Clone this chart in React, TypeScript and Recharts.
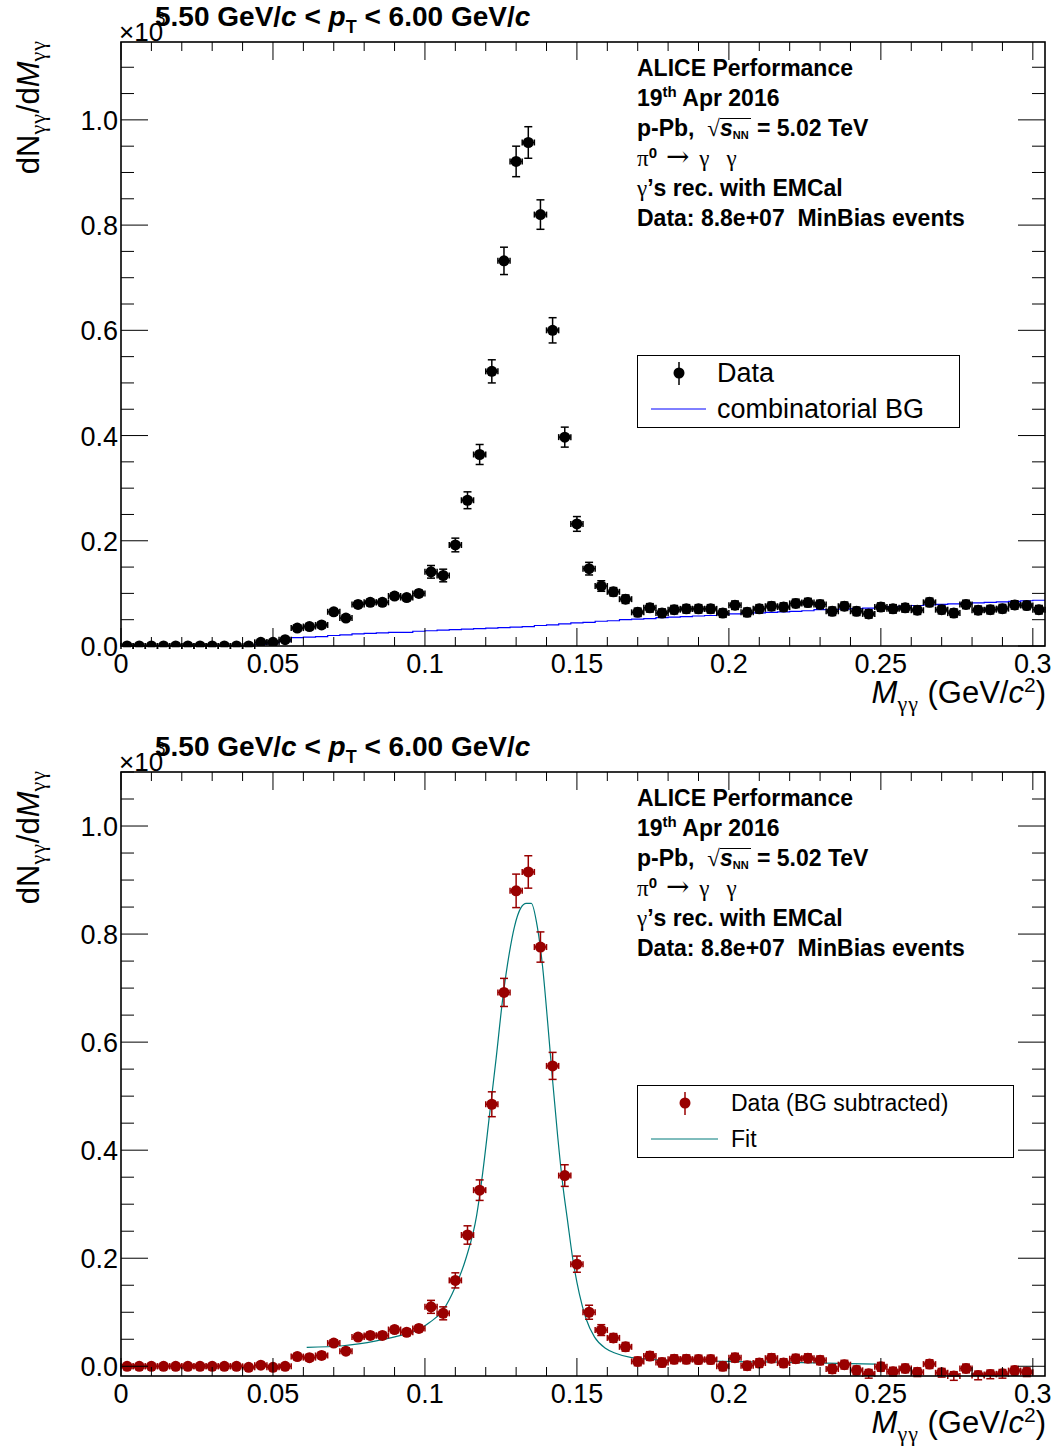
import React from "react";
import { ComposedChart, Scatter, Line, XAxis, YAxis, ErrorBar } from "recharts";

// bin centres of the invariant-mass histogram (GeV/c^2)
const binCentres = [
  0.002, 0.006, 0.010, 0.014, 0.018, 0.022, 0.026, 0.030, 0.034, 0.038,
  0.042, 0.046, 0.050, 0.054, 0.058, 0.062, 0.066, 0.070, 0.074, 0.078,
  0.082, 0.086, 0.090, 0.094, 0.098, 0.102, 0.106, 0.110, 0.114, 0.118,
  0.122, 0.126, 0.130, 0.134, 0.138, 0.142, 0.146, 0.150, 0.154, 0.158,
  0.162, 0.166, 0.170, 0.174, 0.178, 0.182, 0.186, 0.190, 0.194, 0.198,
  0.202, 0.206, 0.210, 0.214, 0.218, 0.222, 0.226, 0.230, 0.234, 0.238,
  0.242, 0.246, 0.250, 0.254, 0.258, 0.262, 0.266, 0.270, 0.274, 0.278,
  0.282, 0.286, 0.290, 0.294, 0.298, 0.302,
];
const BIN = 0.004;

// top panel: same-event distribution (x10^3)
const dataTop = [
  0, 0, 0, 0, 0, 0, 0, 0, 0, 0, 0,
  0.007, 0.007, 0.012,
  0.034, 0.037, 0.040, 0.065, 0.053, 0.079, 0.083, 0.083, 0.095, 0.092, 0.100,
  0.141, 0.134, 0.192, 0.277, 0.364, 0.522, 0.732, 0.921, 0.957, 0.820, 0.600, 0.397, 0.232, 0.147, 0.114,
  0.103, 0.089, 0.064, 0.0725, 0.0625, 0.069, 0.0706, 0.0706, 0.0706, 0.0625,
  0.0775, 0.064, 0.0706, 0.0756, 0.074, 0.081, 0.0825, 0.079, 0.066, 0.0756,
  0.066, 0.061, 0.074, 0.0706, 0.0725, 0.068, 0.083, 0.069, 0.0625, 0.079,
  0.068, 0.069, 0.071, 0.078, 0.077, 0.069,
];
const errTop = [
  0.001, 0.001, 0.001, 0.001, 0.001, 0.001, 0.001, 0.001, 0.001, 0.001, 0.001,
  0.003, 0.003, 0.003,
  0.006, 0.006, 0.006, 0.006, 0.006, 0.006, 0.006, 0.006, 0.006, 0.006, 0.006,
  0.012, 0.012, 0.013, 0.016, 0.019, 0.022, 0.026, 0.029, 0.030, 0.028, 0.024, 0.019, 0.014, 0.012, 0.010,
  0.008, 0.008, 0.008, 0.008, 0.008, 0.008, 0.008, 0.008, 0.008, 0.008,
  0.008, 0.008, 0.008, 0.008, 0.008, 0.008, 0.008, 0.008, 0.008, 0.008,
  0.008, 0.008, 0.008, 0.008, 0.008, 0.008, 0.008, 0.008, 0.008, 0.008,
  0.008, 0.008, 0.008, 0.008, 0.008, 0.008,
];
// combinatorial background (mixed events), per bin
const bgTop = [
  0, 0, 0, 0, 0, 0, 0, 0, 0, 0, 0,
  0.003, 0.006, 0.009,
  0.016, 0.017, 0.018, 0.020, 0.021, 0.023, 0.024, 0.025, 0.026, 0.026, 0.028,
  0.029, 0.030, 0.031, 0.032, 0.033, 0.034, 0.035, 0.036, 0.037, 0.039, 0.040, 0.042, 0.044, 0.045, 0.047,
  0.048, 0.050, 0.051, 0.052, 0.054, 0.055, 0.056, 0.057, 0.058, 0.060,
  0.061, 0.062, 0.063, 0.064, 0.065, 0.066, 0.067, 0.069, 0.069, 0.070,
  0.071, 0.072, 0.074, 0.075, 0.076, 0.077, 0.078, 0.079, 0.080, 0.081,
  0.082, 0.083, 0.084, 0.085, 0.086, 0.087,
];

// bottom panel: background subtracted
const dataSub = [
  0, 0, 0, 0, 0, 0, 0, 0, 0, 0, -0.002,
  0.002, -0.002, 0,
  0.018, 0.016, 0.020, 0.043, 0.028, 0.054, 0.057, 0.057, 0.068, 0.063, 0.070,
  0.110, 0.098, 0.159, 0.243, 0.326, 0.485, 0.692, 0.880, 0.915, 0.776, 0.556, 0.353, 0.189, 0.100, 0.067,
  0.0525, 0.036, 0.009, 0.019, 0.007, 0.013, 0.013, 0.0125, 0.0125, 0.0,
  0.016, 0.001, 0.006, 0.015, 0.006, 0.014, 0.015, 0.011, -0.005, 0.003,
  -0.0075, -0.014, -0.001, -0.010, -0.004, -0.011, 0.004, -0.012, -0.018, -0.004,
  -0.017, -0.015, -0.014, -0.008, -0.011,
];
const errSub = [
  0.001, 0.001, 0.001, 0.001, 0.001, 0.001, 0.001, 0.001, 0.001, 0.001, 0.001,
  0.003, 0.003, 0.003,
  0.006, 0.006, 0.006, 0.006, 0.006, 0.006, 0.006, 0.006, 0.006, 0.006, 0.006,
  0.012, 0.012, 0.014, 0.017, 0.019, 0.023, 0.026, 0.031, 0.030, 0.028, 0.025, 0.020, 0.015, 0.013, 0.010,
  0.008, 0.008, 0.008, 0.008, 0.008, 0.008, 0.008, 0.008, 0.008, 0.008,
  0.008, 0.008, 0.008, 0.008, 0.008, 0.008, 0.008, 0.008, 0.008, 0.008,
  0.008, 0.008, 0.008, 0.008, 0.008, 0.008, 0.008, 0.008, 0.008, 0.008,
  0.008, 0.008, 0.008, 0.008, 0.008,
];

// fit curve (mass, value)
const fitX = [
  0.0611, 0.073, 0.084, 0.0927, 0.098, 0.1015, 0.106, 0.110, 0.1135, 0.117,
  0.119, 0.1212, 0.1234, 0.1256, 0.1278, 0.1294, 0.1316, 0.1333, 0.135, 0.137,
  0.1387, 0.1404, 0.142, 0.1437, 0.1453, 0.147, 0.1486, 0.1508, 0.153, 0.1558,
  0.1595, 0.1627, 0.168, 0.1765, 0.194, 0.217, 0.240, 0.2485,
];
const fitY = [
  0.035, 0.038, 0.047, 0.058, 0.068, 0.081, 0.104, 0.147, 0.200, 0.279,
  0.358, 0.463, 0.569, 0.681, 0.766, 0.8125, 0.849, 0.857, 0.857, 0.8125,
  0.740, 0.635, 0.529, 0.424, 0.338, 0.266, 0.200, 0.134, 0.088, 0.054,
  0.033, 0.024, 0.016, 0.012, 0.0094, 0.0075, 0.005, 0.004,
];

const xTicks = [
  0, 0.01, 0.02, 0.03, 0.04, 0.05, 0.06, 0.07, 0.08, 0.09, 0.1,
  0.11, 0.12, 0.13, 0.14, 0.15, 0.16, 0.17, 0.18, 0.19, 0.2,
  0.21, 0.22, 0.23, 0.24, 0.25, 0.26, 0.27, 0.28, 0.29, 0.3,
];
const yTicks = [
  0, 0.05, 0.1, 0.15, 0.2, 0.25, 0.3, 0.35, 0.4, 0.45, 0.5, 0.55,
  0.6, 0.65, 0.7, 0.75, 0.8, 0.85, 0.9, 0.95, 1.0, 1.05, 1.1,
];

const FONT = '"Liberation Sans", Arial, Helvetica, sans-serif';
const SERIF = '"Liberation Serif", "DejaVu Serif", serif';

const W = 1058;
const H = 720;
// axes get 1px each, so the frame is x 121..1045, y 42..646
const MARGIN = { top: 42, right: 13, bottom: 73, left: 120 };
const PL = 121;
const PT = 42;
const PW = 924;
const PH = 604;

const pts = (ys: number[], es: number[]) =>
  ys.map((y, i) => ({ x: binCentres[i], y, ey: es[i], ex: BIN / 2 }));

const steps = (ys: number[], from: number) => {
  const out = ys.slice(from).map((y, i) => ({ x: binCentres[i + from] - BIN / 2, y }));
  out.push({ x: binCentres[ys.length - 1] + BIN / 2, y: ys[ys.length - 1] });
  return out;
};

function XTick(props: any) {
  const { x, y, payload } = props;
  const v = payload.value;
  const major = Math.round(v * 1000) % 50 === 0;
  const len = major ? 18 : 9;
  return (
    <g>
      <line x1={x} y1={y} x2={x} y2={y - len} stroke="#000" strokeWidth={1} />
      <line x1={x} y1={y - PH} x2={x} y2={y - PH + len} stroke="#000" strokeWidth={1} />
      {major && (
        <text x={x} y={y + 27} textAnchor="middle" fontSize={27} fontFamily={FONT} fill="#000">
          {v === 0 ? "0" : String(+v.toFixed(2))}
        </text>
      )}
    </g>
  );
}

function YTick(props: any) {
  const { x, y, payload } = props;
  const v = payload.value;
  const major = Math.round(v * 100) % 20 === 0;
  const len = major ? 27 : 13;
  return (
    <g>
      <line x1={x} y1={y} x2={x + len} y2={y} stroke="#000" strokeWidth={1} />
      <line x1={x + PW} y1={y} x2={x + PW - len} y2={y} stroke="#000" strokeWidth={1} />
      {major && (
        <text x={x - 3} y={y + 10} textAnchor="end" fontSize={27} fontFamily={FONT} fill="#000">
          {v.toFixed(1)}
        </text>
      )}
    </g>
  );
}

const gg = <span style={{ fontFamily: SERIF, letterSpacing: 1 }}>γγ</span>;
const up = (size: number, top: number): React.CSSProperties => ({
  fontSize: size, position: "relative", top, verticalAlign: "baseline", lineHeight: 0,
});

function Texts() {
  const line: React.CSSProperties = { height: 30, lineHeight: "30px", whiteSpace: "nowrap" };
  const serif: React.CSSProperties = { fontFamily: SERIF, fontWeight: "normal" };
  return (
    <>
      {/* multiplier and title */}
      <div style={{ position: "absolute", left: 119, top: 19, fontSize: 26, lineHeight: "26px", fontFamily: FONT }}>
        ×10
      </div>
      <div style={{ position: "absolute", left: 156, top: 10, fontSize: 17, lineHeight: "17px", fontFamily: FONT }}>
        3
      </div>
      <div style={{ position: "absolute", left: 155, top: 2, fontSize: 28, lineHeight: "30px", fontWeight: "bold", fontFamily: FONT, whiteSpace: "nowrap" }}>
        5.50 GeV/<i>c</i> &lt; <i>p</i>
        <span style={up(18, 7)}>T</span> &lt; 6.00 GeV/<i>c</i>
      </div>
      {/* y title */}
      <div
        style={{
          position: "absolute", left: -81, top: 133, width: 220, height: 34,
          transform: "rotate(-90deg)", textAlign: "right", fontSize: 31, lineHeight: "34px",
          fontFamily: FONT, whiteSpace: "nowrap",
        }}
      >
        dN<span style={up(22, 6)}>{gg}</span>/d<i>M</i>
        <span style={up(22, 6)}>{gg}</span>
      </div>
      {/* x title */}
      <div
        style={{
          position: "absolute", right: W - 1046, top: 676, fontSize: 31, lineHeight: "34px",
          fontFamily: FONT, whiteSpace: "nowrap",
        }}
      >
        <i>M</i>
        <span style={up(22, 8)}>{gg}</span> (GeV/<i>c</i>
        <span style={up(21, -11)}>2</span>)
      </div>
      {/* annotation */}
      <div style={{ position: "absolute", left: 637, top: 53, fontSize: 23, fontWeight: "bold", fontFamily: FONT }}>
        <div style={line}>ALICE Performance</div>
        <div style={line}>
          19<span style={up(15, -9)}>th</span> Apr 2016
        </div>
        <div style={line}>
          p-Pb,&nbsp;&nbsp;<span style={serif}>√</span>
          <span style={{ display: "inline-block", borderTop: "1px solid #000", lineHeight: "19px", paddingRight: 2 }}>
            <i>s</i>
            <span style={up(11, 3)}>NN</span>
          </span>{" "}
          = 5.02 TeV
        </div>
        <div style={line}>
          <span style={serif}>π</span>
          <span style={up(15, -8)}>0</span>
          <span style={{ ...serif, fontFamily: '"DejaVu Serif", "DejaVu Sans", serif', fontSize: 28, lineHeight: 0, marginLeft: 9, marginRight: 4 }}>→</span>
          <span style={serif}>&nbsp;γ&nbsp;&nbsp;&nbsp;γ</span>
        </div>
        <div style={line}>
          <span style={serif}>γ</span>’s rec. with EMCal
        </div>
        <div style={line}>Data: 8.8e+07&nbsp; MinBias events</div>
      </div>
    </>
  );
}

function LegendBox({ width, marker, lineColor, label1, label2, textLeft, fontSize, markerX, lineX2 }: any) {
  return (
    <div
      style={{
        position: "absolute", left: 637, top: 355, width, height: 73, boxSizing: "border-box",
        border: "1px solid #000", background: "#fff", fontFamily: FONT, fontSize,
      }}
    >
      <svg width={width - 2} height={71} style={{ position: "absolute", left: 0, top: 0 }}>
        <line x1={markerX} y1={6} x2={markerX} y2={29} stroke={marker} strokeWidth={1.5} />
        <circle cx={markerX} cy={17} r={5.5} fill={marker} />
        <line x1={13} y1={53} x2={lineX2} y2={53} stroke={lineColor} strokeWidth={1} />
      </svg>
      <div style={{ position: "absolute", left: textLeft, top: -1, height: 36, lineHeight: "36px", whiteSpace: "nowrap" }}>
        {label1}
      </div>
      <div style={{ position: "absolute", left: textLeft, top: 35, height: 36, lineHeight: "36px", whiteSpace: "nowrap" }}>
        {label2}
      </div>
    </div>
  );
}

function Panel({ top, data, line, color, lineColor, yMin, yMax, legend, lineType }: any) {
  return (
    <div style={{ position: "absolute", left: 0, top, width: W, height: H }}>
      <ComposedChart width={W} height={H} margin={MARGIN}>
        <XAxis
          type="number" dataKey="x" domain={[0, 0.304]} ticks={xTicks} allowDataOverflow
          height={1} tickSize={0} tickMargin={0} axisLine={false} tickLine={false} tick={<XTick />} interval={0}
        />
        <YAxis
          type="number" dataKey="y" domain={[yMin, yMax]} ticks={yTicks} allowDataOverflow
          width={1} tickSize={0} tickMargin={0} axisLine={false} tickLine={false} tick={<YTick />} interval={0}
        />
        <Line
          data={line} dataKey="y" type={lineType} stroke={lineColor} strokeWidth={1.2}
          dot={false} activeDot={false} isAnimationActive={false}
        />
        <Scatter
          data={data} fill={color} isAnimationActive={false}
          shape={(p: any) => <circle cx={p.cx} cy={p.cy} r={5.5} fill={color} />}
        >
          <ErrorBar dataKey="ey" direction="y" width={4} stroke={color} strokeWidth={1.5} />
          <ErrorBar dataKey="ex" direction="x" width={3} stroke={color} strokeWidth={1.5} />
        </Scatter>
      </ComposedChart>
      <svg width={W} height={H} style={{ position: "absolute", left: 0, top: 0, pointerEvents: "none" }}>
        <rect x={PL} y={PT} width={PW} height={PH} fill="none" stroke="#000" strokeWidth={1.6} />
      </svg>
      <Texts />
      {legend}
    </div>
  );
}

export default function App() {
  const topData = pts(dataTop, errTop);
  const subData = pts(dataSub, errSub);
  const bgLine = steps(bgTop, 10);
  const fitLine = fitX.map((x, i) => ({ x, y: fitY[i] }));
  return (
    <div style={{ position: "absolute", left: 0, top: 0, width: W, height: 1447, background: "#fff", fontFamily: FONT }}>
      <Panel
        top={0} data={topData} line={bgLine} color="#000" lineColor="#0000ff" lineType="stepAfter"
        yMin={0} yMax={1.148}
        legend={
          <LegendBox
            width={323} marker="#000" lineColor="#0000ff" label1="Data" label2="combinatorial BG"
            textLeft={79} fontSize={27} markerX={41} lineX2={68}
          />
        }
      />
      <Panel
        top={730} data={subData} line={fitLine} color="#990000" lineColor="#007a7a" lineType="monotone"
        yMin={-0.018} yMax={1.1}
        legend={
          <LegendBox
            width={377} marker="#990000" lineColor="#007a7a" label1="Data (BG subtracted)" label2="Fit"
            textLeft={93} fontSize={23} markerX={47} lineX2={80}
          />
        }
      />
    </div>
  );
}
